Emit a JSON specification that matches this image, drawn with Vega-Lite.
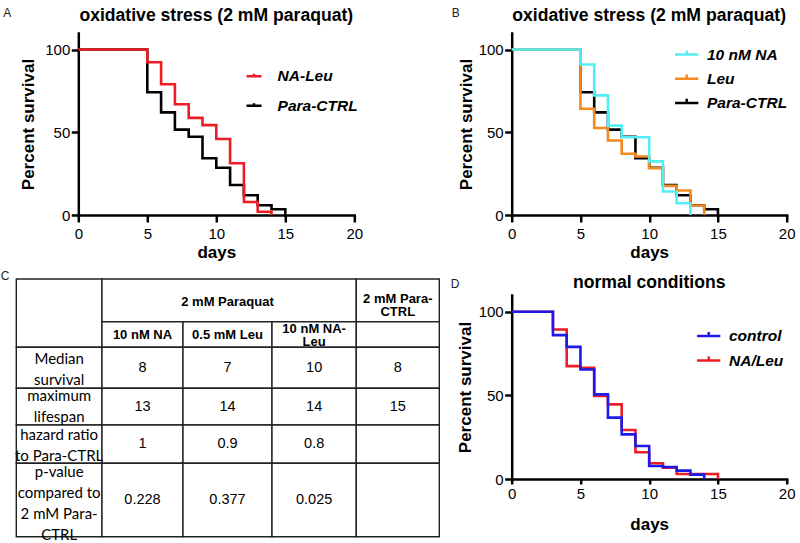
{
  "$schema": "https://vega.github.io/schema/vega-lite/v6.json",
  "background": "white",
  "autosize": {"type": "none"},
  "padding": {"left": 78.3, "top": 33, "right": 721.7, "bottom": 510},
  "config": {
    "view": {"stroke": null},
    "font": "Liberation Sans",
    "axis": {"grid": false, "domainColor": "black", "tickColor": "black", "labelColor": "black", "titleColor": "black", "domainWidth": 2.5, "tickWidth": 2.5, "tickSize": 7, "labelFontSize": 15, "labelFont": "Liberation Sans", "titleFont": "Liberation Sans", "titleFontSize": 17, "titleFontWeight": "bold", "domainCap": "square", "labelOverlap": false, "labelFlush": false, "labelBound": false, "titleBaseline": "alphabetic"},
    "axisX": {"labelPadding": 4},
    "axisY": {"labelPadding": 1.5},
    "title": {"font": "Liberation Sans", "fontSize": 17.6, "fontWeight": "bold", "color": "black", "anchor": "middle", "frame": "group", "baseline": "alphabetic"},
    "legend": {"orient": "none", "title": null, "padding": 0, "labelFont": "Liberation Sans", "labelFontSize": 15.5, "labelFontStyle": "italic", "labelFontWeight": "bold", "labelColor": "black", "symbolStrokeWidth": 2.5, "symbolType": "M-1,0H1M0,0V-0.35", "labelLimit": 300}
  },
  "datasets": {
    "A": [
      {"day": 0, "pct": 100, "group": "NA-Leu"}, {"day": 5, "pct": 92.3, "group": "NA-Leu"}, {"day": 6, "pct": 79, "group": "NA-Leu"}, {"day": 7, "pct": 66.9, "group": "NA-Leu"}, {"day": 8, "pct": 58.7, "group": "NA-Leu"}, {"day": 9, "pct": 54.3, "group": "NA-Leu"}, {"day": 10, "pct": 45.9, "group": "NA-Leu"}, {"day": 11, "pct": 31.3, "group": "NA-Leu"}, {"day": 12, "pct": 7.9, "group": "NA-Leu"}, {"day": 13, "pct": 2, "group": "NA-Leu"}, {"day": 14, "pct": 0, "group": "NA-Leu"},
      {"day": 0, "pct": 100, "group": "Para-CTRL"}, {"day": 5, "pct": 74.2, "group": "Para-CTRL"}, {"day": 6, "pct": 62, "group": "Para-CTRL"}, {"day": 7, "pct": 51.6, "group": "Para-CTRL"}, {"day": 8, "pct": 47.3, "group": "Para-CTRL"}, {"day": 9, "pct": 34.3, "group": "Para-CTRL"}, {"day": 10, "pct": 28.6, "group": "Para-CTRL"}, {"day": 11, "pct": 18.1, "group": "Para-CTRL"}, {"day": 12, "pct": 11.9, "group": "Para-CTRL"}, {"day": 13, "pct": 5.9, "group": "Para-CTRL"}, {"day": 14, "pct": 3.5, "group": "Para-CTRL"}, {"day": 15, "pct": 0, "group": "Para-CTRL"}
    ],
    "B": [
      {"day": 0, "pct": 100, "group": "10 nM NA"}, {"day": 5, "pct": 91, "group": "10 nM NA"}, {"day": 6, "pct": 72.3, "group": "10 nM NA"}, {"day": 7, "pct": 54, "group": "10 nM NA"}, {"day": 8, "pct": 47, "group": "10 nM NA"}, {"day": 10, "pct": 32.4, "group": "10 nM NA"}, {"day": 11, "pct": 14.2, "group": "10 nM NA"}, {"day": 12, "pct": 7.1, "group": "10 nM NA"}, {"day": 13, "pct": 0, "group": "10 nM NA"},
      {"day": 0, "pct": 100, "group": "Leu"}, {"day": 5, "pct": 64.2, "group": "Leu"}, {"day": 6, "pct": 52.6, "group": "Leu"}, {"day": 7, "pct": 45, "group": "Leu"}, {"day": 8, "pct": 37, "group": "Leu"}, {"day": 9, "pct": 35.4, "group": "Leu"}, {"day": 10, "pct": 28.3, "group": "Leu"}, {"day": 11, "pct": 17.6, "group": "Leu"}, {"day": 12, "pct": 14.8, "group": "Leu"}, {"day": 13, "pct": 5.7, "group": "Leu"}, {"day": 14, "pct": 0, "group": "Leu"},
      {"day": 0, "pct": 100, "group": "Para-CTRL"}, {"day": 5, "pct": 74.2, "group": "Para-CTRL"}, {"day": 6, "pct": 62, "group": "Para-CTRL"}, {"day": 7, "pct": 51.6, "group": "Para-CTRL"}, {"day": 8, "pct": 47.3, "group": "Para-CTRL"}, {"day": 9, "pct": 34.3, "group": "Para-CTRL"}, {"day": 10, "pct": 28.6, "group": "Para-CTRL"}, {"day": 11, "pct": 18.1, "group": "Para-CTRL"}, {"day": 12, "pct": 11.9, "group": "Para-CTRL"}, {"day": 13, "pct": 5.9, "group": "Para-CTRL"}, {"day": 14, "pct": 3.5, "group": "Para-CTRL"}, {"day": 15, "pct": 0, "group": "Para-CTRL"}
    ],
    "D": [
      {"day": 0, "pct": 100, "group": "control"}, {"day": 3, "pct": 86, "group": "control"}, {"day": 4, "pct": 79, "group": "control"}, {"day": 5, "pct": 65.5, "group": "control"}, {"day": 6, "pct": 50.6, "group": "control"}, {"day": 7, "pct": 36.7, "group": "control"}, {"day": 8, "pct": 26.7, "group": "control"}, {"day": 9, "pct": 19.7, "group": "control"}, {"day": 10, "pct": 7.8, "group": "control"}, {"day": 11, "pct": 7.2, "group": "control"}, {"day": 12, "pct": 5, "group": "control"}, {"day": 13, "pct": 2.6, "group": "control"}, {"day": 14, "pct": 0, "group": "control"},
      {"day": 0, "pct": 100, "group": "NA/Leu"}, {"day": 3, "pct": 89.4, "group": "NA/Leu"}, {"day": 4, "pct": 67.5, "group": "NA/Leu"}, {"day": 5, "pct": 66.5, "group": "NA/Leu"}, {"day": 6, "pct": 49.6, "group": "NA/Leu"}, {"day": 7, "pct": 44.6, "group": "NA/Leu"}, {"day": 8, "pct": 29.3, "group": "NA/Leu"}, {"day": 9, "pct": 16, "group": "NA/Leu"}, {"day": 10, "pct": 9.4, "group": "NA/Leu"}, {"day": 11, "pct": 6.8, "group": "NA/Leu"}, {"day": 12, "pct": 3, "group": "NA/Leu"}, {"day": 15, "pct": 0, "group": "NA/Leu"}
    ],
    "cells": [
      {"c0": 0, "c1": 1, "r0": 0, "r1": 2}, {"c0": 1, "c1": 4, "r0": 0, "r1": 1}, {"c0": 4, "c1": 5, "r0": 0, "r1": 1},
      {"c0": 1, "c1": 2, "r0": 1, "r1": 2}, {"c0": 2, "c1": 3, "r0": 1, "r1": 2}, {"c0": 3, "c1": 4, "r0": 1, "r1": 2}, {"c0": 4, "c1": 5, "r0": 1, "r1": 2},
      {"c0": 0, "c1": 1, "r0": 2, "r1": 3}, {"c0": 1, "c1": 2, "r0": 2, "r1": 3}, {"c0": 2, "c1": 3, "r0": 2, "r1": 3}, {"c0": 3, "c1": 4, "r0": 2, "r1": 3}, {"c0": 4, "c1": 5, "r0": 2, "r1": 3},
      {"c0": 0, "c1": 1, "r0": 3, "r1": 4}, {"c0": 1, "c1": 2, "r0": 3, "r1": 4}, {"c0": 2, "c1": 3, "r0": 3, "r1": 4}, {"c0": 3, "c1": 4, "r0": 3, "r1": 4}, {"c0": 4, "c1": 5, "r0": 3, "r1": 4},
      {"c0": 0, "c1": 1, "r0": 4, "r1": 5}, {"c0": 1, "c1": 2, "r0": 4, "r1": 5}, {"c0": 2, "c1": 3, "r0": 4, "r1": 5}, {"c0": 3, "c1": 4, "r0": 4, "r1": 5}, {"c0": 4, "c1": 5, "r0": 4, "r1": 5},
      {"c0": 0, "c1": 1, "r0": 5, "r1": 6}, {"c0": 1, "c1": 2, "r0": 5, "r1": 6}, {"c0": 2, "c1": 3, "r0": 5, "r1": 6}, {"c0": 3, "c1": 4, "r0": 5, "r1": 6}, {"c0": 4, "c1": 5, "r0": 5, "r1": 6}
    ],
    "headers": [
      {"col": 2.5, "row": 0.53, "text": "2 mM Paraquat"},
      {"col": 4.5, "row": 0.475, "text": "2 mM Para-\nCTRL"},
      {"col": 1.5, "row": 1.5, "text": "10 nM NA"},
      {"col": 2.5, "row": 1.5, "text": "0.5 mM Leu"},
      {"col": 3.5, "row": 1.3, "text": "10 nM NA-\nLeu"}
    ],
    "labels": [
      {"col": 0.5, "row": 2.285, "text": "Median\nsurvival"},
      {"col": 0.5, "row": 3.21, "text": "maximum\nlifespan"},
      {"col": 0.5, "row": 4.26, "text": "hazard ratio\nto Para-CTRL"},
      {"col": 0.5, "row": 5.12, "text": "p-value\ncompared to\n2 mM Para-\nCTRL"}
    ],
    "values": [
      {"col": 1.5, "row": 2.5, "text": "8"}, {"col": 2.5, "row": 2.5, "text": "7"}, {"col": 3.5, "row": 2.5, "text": "10"}, {"col": 4.5, "row": 2.5, "text": "8"},
      {"col": 1.5, "row": 3.5, "text": "13"}, {"col": 2.5, "row": 3.5, "text": "14"}, {"col": 3.5, "row": 3.5, "text": "14"}, {"col": 4.5, "row": 3.5, "text": "15"},
      {"col": 1.5, "row": 4.5, "text": "1"}, {"col": 2.5, "row": 4.5, "text": "0.9"}, {"col": 3.5, "row": 4.5, "text": "0.8"},
      {"col": 1.5, "row": 5.5, "text": "0.228"}, {"col": 2.5, "row": 5.5, "text": "0.377"}, {"col": 3.5, "row": 5.5, "text": "0.025"}
    ]
  },
  "columns": 2,
  "bounds": "flush",
  "spacing": {"row": 80, "column": 73.4},
  "resolve": {"scale": {"color": "independent", "x": "independent", "y": "independent"}, "legend": {"color": "independent"}},
  "concat": [
    {
      "width": 276, "height": 182,
      "title": {"text": "oxidative stress (2 mM paraquat)", "offset": -18},
      "layer": [
        {"data": {"name": "A"}, "transform": [{"filter": {"field": "group", "equal": "Para-CTRL"}}], "mark": {"type": "line", "interpolate": "step-after", "strokeWidth": 2.6},
          "encoding": {
            "x": {"field": "day", "type": "quantitative", "scale": {"domain": [0, 20], "nice": false}, "axis": {"values": [0, 5, 10, 15, 20], "title": "days", "titleY": 42.3}},
            "y": {"field": "pct", "type": "quantitative", "scale": {"domain": [0, 110], "nice": false}, "axis": {"values": [0, 50, 100], "title": "Percent survival", "titleX": -44.8}},
            "color": {"field": "group", "type": "nominal", "scale": {"domain": ["NA-Leu", "Para-CTRL"], "range": ["#ee1c24", "#000000"]}, "legend": {"legendX": 166.7, "legendY": 34.3, "symbolSize": 225, "labelOffset": 14.6, "rowPadding": 11.5}}
          }},
        {"data": {"name": "A"}, "transform": [{"filter": {"field": "group", "equal": "NA-Leu"}}], "mark": {"type": "line", "interpolate": "step-after", "strokeWidth": 2.6},
          "encoding": {
            "x": {"field": "day", "type": "quantitative", "title": "days"},
            "y": {"field": "pct", "type": "quantitative", "title": "Percent survival"},
            "color": {"field": "group", "type": "nominal"}
          }},
        {"data": {"values": [{"label": "A"}]}, "mark": {"type": "text", "align": "left", "baseline": "alphabetic", "fontSize": 12, "font": "Liberation Sans", "color": "#222222"},
          "encoding": {"x": {"datum": -5.43, "type": "quantitative", "title": "days"}, "y": {"datum": 119.7, "type": "quantitative", "title": "Percent survival"}, "text": {"field": "label"}}}
      ]
    },
    {
      "width": 275, "height": 182,
      "title": {"text": "oxidative stress (2 mM paraquat)", "offset": -17.4},
      "layer": [
        {"data": {"name": "B"}, "transform": [{"filter": {"field": "group", "equal": "Para-CTRL"}}], "mark": {"type": "line", "interpolate": "step-after", "strokeWidth": 2.6},
          "encoding": {
            "x": {"field": "day", "type": "quantitative", "scale": {"domain": [0, 20], "nice": false}, "axis": {"values": [0, 5, 10, 15, 20], "title": "days", "titleY": 42.3}},
            "y": {"field": "pct", "type": "quantitative", "scale": {"domain": [0, 110], "nice": false}, "axis": {"values": [0, 50, 100], "title": "Percent survival", "titleX": -40.7}},
            "color": {"field": "group", "type": "nominal", "scale": {"domain": ["10 nM NA", "Leu", "Para-CTRL"], "range": ["#55eef4", "#f5891f", "#000000"]}, "legend": {"legendX": 162, "legendY": 8.5, "symbolSize": 543, "labelOffset": 7.3, "rowPadding": 2.2}}
          }},
        {"data": {"name": "B"}, "transform": [{"filter": {"field": "group", "equal": "Leu"}}], "mark": {"type": "line", "interpolate": "step-after", "strokeWidth": 2.6},
          "encoding": {
            "x": {"field": "day", "type": "quantitative", "title": "days"},
            "y": {"field": "pct", "type": "quantitative", "title": "Percent survival"},
            "color": {"field": "group", "type": "nominal"}
          }},
        {"data": {"name": "B"}, "transform": [{"filter": {"field": "group", "equal": "10 nM NA"}}], "mark": {"type": "line", "interpolate": "step-after", "strokeWidth": 2.6},
          "encoding": {
            "x": {"field": "day", "type": "quantitative", "title": "days"},
            "y": {"field": "pct", "type": "quantitative", "title": "Percent survival"},
            "color": {"field": "group", "type": "nominal"}
          }},
        {"data": {"values": [{"label": "B"}]}, "mark": {"type": "text", "align": "left", "baseline": "alphabetic", "fontSize": 12, "font": "Liberation Sans", "color": "#222222"},
          "encoding": {"x": {"datum": -4.36, "type": "quantitative", "title": "days"}, "y": {"datum": 119.5, "type": "quantitative", "title": "Percent survival"}, "text": {"field": "label"}}}
      ]
    },
    {
      "width": 360, "height": 184,
      "layer": [
        {"data": {"name": "cells"}, "mark": {"type": "rect", "fill": "white", "stroke": "#222222", "strokeWidth": 1.4},
          "encoding": {
            "x": {"field": "c0", "type": "quantitative", "scale": {"domain": [0, 1, 2, 3, 4, 5], "range": [-62, 23.7, 104.7, 193.7, 278, 361], "nice": false, "zero": false}, "axis": null},
            "x2": {"field": "c1"},
            "y": {"field": "r0", "type": "quantitative", "scale": {"domain": [0, 1, 2, 3, 4, 5, 6], "range": [-16, 26.7, 52.3, 93.3, 130, 168.3, 241.7], "nice": false, "zero": false}, "axis": null},
            "y2": {"field": "r1"}
          }},
        {"data": {"name": "headers"}, "mark": {"type": "text", "font": "Liberation Sans", "fontWeight": "bold", "fontSize": 13, "lineHeight": 13, "lineBreak": "\n", "baseline": "middle", "align": "center", "color": "black"},
          "encoding": {"x": {"field": "col", "type": "quantitative", "axis": null}, "y": {"field": "row", "type": "quantitative", "axis": null}, "text": {"field": "text"}}},
        {"data": {"name": "labels"}, "mark": {"type": "text", "font": "Lato", "fontSize": 15, "lineHeight": 21, "baseline": "middle", "align": "center", "lineBreak": "\n", "color": "black"},
          "encoding": {"x": {"field": "col", "type": "quantitative", "axis": null}, "y": {"field": "row", "type": "quantitative", "axis": null}, "text": {"field": "text"}}},
        {"data": {"name": "values"}, "mark": {"type": "text", "font": "Liberation Sans", "fontSize": 14.5, "baseline": "middle", "align": "center", "color": "black"},
          "encoding": {"x": {"field": "col", "type": "quantitative", "axis": null}, "y": {"field": "row", "type": "quantitative", "axis": null}, "text": {"field": "text"}}},
        {"data": {"values": [{"label": "C"}]}, "mark": {"type": "text", "align": "left", "baseline": "alphabetic", "fontSize": 12, "font": "Liberation Sans", "color": "#222222"},
          "encoding": {"x": {"datum": -0.18, "type": "quantitative", "axis": null}, "y": {"datum": 0.023, "type": "quantitative", "axis": null}, "text": {"field": "label"}}}
      ]
    },
    {
      "width": 275, "height": 184,
      "title": {"text": "normal conditions", "offset": -13},
      "layer": [
        {"data": {"name": "D"}, "transform": [{"filter": {"field": "group", "equal": "NA/Leu"}}], "mark": {"type": "line", "interpolate": "step-after", "strokeWidth": 2.6},
          "encoding": {
            "x": {"field": "day", "type": "quantitative", "scale": {"domain": [0, 20], "nice": false}, "axis": {"values": [0, 5, 10, 15, 20], "title": "days", "titleY": 50, "tickSize": 5, "labelPadding": 2}},
            "y": {"field": "pct", "type": "quantitative", "scale": {"domain": [0, 110], "nice": false}, "axis": {"values": [0, 50, 100], "title": "Percent survival", "titleX": -41.7}},
            "color": {"field": "group", "type": "nominal", "scale": {"domain": ["control", "NA/Leu"], "range": ["#1c1ce8", "#ee1c24"]}, "legend": {"legendX": 184, "legendY": 28, "symbolSize": 543, "labelOffset": 7.3, "rowPadding": 2.5}}
          }},
        {"data": {"name": "D"}, "transform": [{"filter": {"field": "group", "equal": "control"}}], "mark": {"type": "line", "interpolate": "step-after", "strokeWidth": 2.6},
          "encoding": {
            "x": {"field": "day", "type": "quantitative", "title": "days"},
            "y": {"field": "pct", "type": "quantitative", "title": "Percent survival"},
            "color": {"field": "group", "type": "nominal"}
          }},
        {"data": {"values": [{"label": "D"}]}, "mark": {"type": "text", "align": "left", "baseline": "alphabetic", "fontSize": 12, "font": "Liberation Sans", "color": "#222222"},
          "encoding": {"x": {"datum": -4.44, "type": "quantitative", "title": "days"}, "y": {"datum": 114, "type": "quantitative", "title": "Percent survival"}, "text": {"field": "label"}}}
      ]
    }
  ]
}
